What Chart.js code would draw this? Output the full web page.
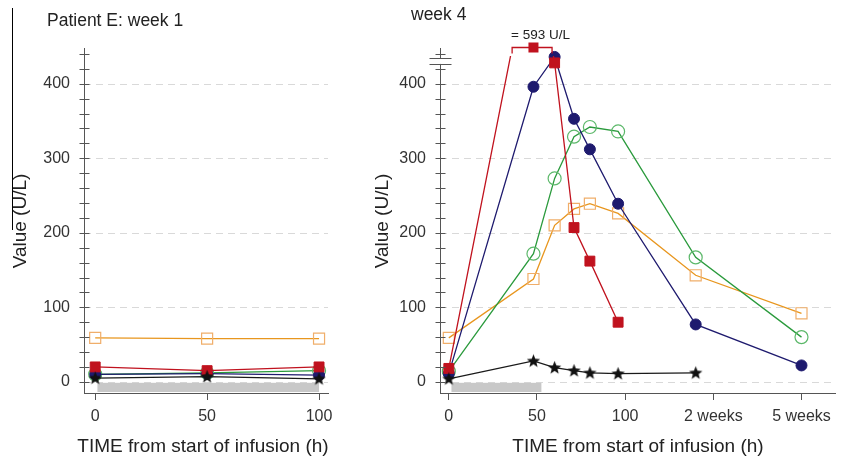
<!DOCTYPE html>
<html><head><meta charset="utf-8">
<script src="https://cdn.jsdelivr.net/npm/chart.js@4.4.1/dist/chart.umd.min.js"></script>
<style>
html,body{margin:0;padding:0;background:#fff;}
#wrap{position:relative;width:845px;height:462px;overflow:hidden;background:#fff;}
#c1{position:absolute;left:0;top:0;}
#c2{position:absolute;left:350px;top:0;}
#edge{position:absolute;left:12px;top:8px;width:1px;height:222px;background:#000;}
</style></head><body>
<div id="wrap"><canvas id="c1" width="340" height="462"></canvas><canvas id="c2" width="495" height="462"></canvas><div id="edge"></div></div>
<script>
// ---- tick values / labels ----
const yTickValues = [0,20,40,60,80,100,120,140,160,180,200,220,240,260,280,300,320,340,360,380,400,420,440];
const yLabelValues = [0,100,200,300,400];
const leftXTicks = [0,50,100];
const leftXLabels = ['0','50','100'];
const rightXTicks = [0,50,100,150,200];
const rightXLabels = ['0','50','100','2 weeks','5 weeks'];

// ---- week 1 (left) ----
const leftTimes  = [0,50,100];
const leftOrange = [59,58,58];
const leftRed    = [20,15,20];
const leftGreen  = [10,12,15];
const leftNavy   = [10,11,9];
const leftBlack  = [5,7,4];
const leftInfusion = [1,100];

// ---- week 4 (right) ----
const rightTimes  = [0,48,60,71,80,96,140,200];
const rightNavy   = [11,396,436,353,312,239,77,22];
const rightGreen  = [14,172,273,329,342,336,167,60];
const rightOrange = [59,138,210,232,239,226,143,92];
const rightRedTimes = [0,48,60,71,80,96];
const rightRed      = [18,593,428,207,162,80];
const rightBlackTimes = [0,48,60,71,80,96,140];
const rightBlack      = [4,28,19,15,12,11,12];
const rightInfusion = [1.5,52.5];

const FONT = "'Liberation Sans', Arial, Helvetica, sans-serif";
const C = {navy:'#1e1a6e', green:'#2a9a3c', greenPt:'#5cb86a', orange:'#e8961e', orangePt:'#f0ae6a', red:'#c0121e', black:'#1a1a1a', axis:'#555'};

function starImg(){
  const c = document.createElement('canvas'); c.width=15; c.height=15;
  const g = c.getContext('2d'); g.fillStyle='#111'; g.beginPath();
  for(let i=0;i<10;i++){ const r = i%2?3.0:7.0; const a = -Math.PI/2 + i*Math.PI/5; g.lineTo(7.5+r*Math.cos(a),7.8+r*Math.sin(a)); }
  g.closePath(); g.fill(); return c;
}
const STAR = starImg();
const pts = (xs,ys)=>xs.map((x,i)=>({x:x,y:ys[i]}));

function datasets(times, black, red, navy, green, orange, blackTimes, redTimes){
  return [
    {data:pts(blackTimes||times,black), borderColor:C.black, borderWidth:1.3, pointStyle:STAR, pointRadius:7},
    {data:pts(redTimes||times,red), borderColor:C.red, borderWidth:1.3, pointStyle:'rect', pointRadius:7, pointBackgroundColor:C.red, pointBorderColor:C.red, pointBorderWidth:1, clip:{left:6,top:-8,right:6,bottom:6}},
    {data:pts(times,navy), borderColor:C.navy, borderWidth:1.3, pointStyle:'circle', pointRadius:5.5, pointBackgroundColor:C.navy, pointBorderColor:C.navy, pointBorderWidth:1},
    {data:pts(times,green), borderColor:C.green, borderWidth:1.3, pointStyle:'circle', pointRadius:6.5, pointBackgroundColor:'rgba(0,0,0,0)', pointBorderColor:C.greenPt, pointBorderWidth:1.2},
    {data:pts(times,orange), borderColor:C.orange, borderWidth:1.3, pointStyle:'rect', pointRadius:7.8, pointBackgroundColor:'rgba(0,0,0,0)', pointBorderColor:C.orangePt, pointBorderWidth:1.2}
  ].map(d=>Object.assign({type:'line', fill:false, tension:0}, d));
}

function deco(cfg){
  return {
    id:'deco',
    beforeDatasetsDraw(chart){
      const ctx=chart.ctx, a=chart.chartArea, xs=chart.scales.x, ys=chart.scales.y;
      ctx.save();
      ctx.strokeStyle='#d9d9d9'; ctx.lineWidth=1; ctx.setLineDash([7,5]);
      yLabelValues.forEach(v=>{ const p=Math.round(ys.getPixelForValue(v))+0.5; ctx.beginPath(); ctx.moveTo(a.left,p); ctx.lineTo(a.right,p); ctx.stroke(); });
      ctx.setLineDash([]);
      ctx.fillStyle='#c8c8c8';
      const x0=xs.getPixelForValue(cfg.infusion[0]), x1=xs.getPixelForValue(cfg.infusion[1]);
      const y0=ys.getPixelForValue(0)+1;
      ctx.fillRect(x0,y0,x1-x0,a.bottom-1-y0);
      ctx.restore();
    },
    afterDraw(chart){
      const ctx=chart.ctx, a=chart.chartArea, xs=chart.scales.x, ys=chart.scales.y;
      ctx.save();
      ctx.strokeStyle=C.axis; ctx.lineWidth=1;
      const ax=Math.round(a.left)+0.5;
      ys.ticks.forEach(t=>{ const p=Math.round(ys.getPixelForValue(t.value))+0.5; ctx.beginPath(); ctx.moveTo(ax-5,p); ctx.lineTo(ax+5,p); ctx.stroke(); });
      if(cfg.breakAt!==undefined){
        const p=ys.getPixelForValue(cfg.breakAt);
        ctx.fillStyle='#fff'; ctx.fillRect(ax-2,p-2.5,4,5);
        [p-3,p+3].forEach(q=>{ const r=Math.round(q)+0.5; ctx.beginPath(); ctx.moveTo(ax-11,r); ctx.lineTo(ax+11,r); ctx.stroke(); });
      }
      if(cfg.bracket){
        const b=cfg.bracket, top=ys.max; let xl=null, xr=null, peakX=null, peakY=null;
        for(let i=0;i<b.ys.length;i++){
          if(b.ys[i]>top){
            peakX=b.xs[i]; peakY=b.ys[i];
            xl=b.xs[i-1]+(b.xs[i]-b.xs[i-1])*(top-b.ys[i-1])/(b.ys[i]-b.ys[i-1]);
            xr=b.xs[i]+(b.xs[i+1]-b.xs[i])*(b.ys[i]-top)/(b.ys[i]-b.ys[i+1]);
          }
        }
        if(peakX!==null){
          const pl=xs.getPixelForValue(xl), pr=xs.getPixelForValue(xr), pp=xs.getPixelForValue(peakX);
          const by=Math.round(a.top)-0.5;
          ctx.strokeStyle=C.red; ctx.lineWidth=1.3;
          ctx.beginPath(); ctx.moveTo(pl,by+6); ctx.lineTo(pl,by); ctx.lineTo(pr,by); ctx.lineTo(pr,by+6); ctx.stroke();
          ctx.fillStyle=C.red; ctx.fillRect(pp-5,by-5,10,10);
          ctx.fillStyle='#222'; ctx.font='13.5px '+FONT; ctx.textAlign='center'; ctx.textBaseline='middle';
          ctx.fillText('= '+peakY+' U/L', pp+7, 35);
        }
      }
      ctx.fillStyle='#222'; ctx.textBaseline='middle';
      ctx.font='17.5px '+FONT; ctx.textAlign='left';
      ctx.fillText(cfg.title, cfg.titleX, cfg.titleY);
      ctx.font='19px '+FONT; ctx.textAlign='center';
      ctx.fillText('TIME from start of infusion (h)', cfg.xTitleX, 447);
      ctx.save(); ctx.translate(cfg.yTitleX, 221); ctx.rotate(-Math.PI/2);
      ctx.fillText('Value (U/L)', 0, 0); ctx.restore();
      ctx.restore();
    }
  };
}

function makeChart(id, cfg){
  const canvas=document.getElementById(id);
  return new Chart(canvas,{
    data:{datasets:cfg.datasets},
    options:{
      responsive:false, animation:false, events:[],
      layout:{padding:{left:0,top:48,right:canvas.width-cfg.areaRight,bottom:0}},
      plugins:{legend:{display:false}, tooltip:{enabled:false}},
      scales:{
        x:{type:'linear', min:cfg.xMin, max:cfg.xMax,
          afterBuildTicks:s=>{ s.ticks=cfg.xTicks.map(v=>({value:v})); },
          afterFit:s=>{ s.height=69; },
          ticks:{autoSkip:false, maxRotation:0, padding:7, color:'#333', font:{family:FONT,size:16},
            callback:(v)=>{ const i=cfg.xTicks.indexOf(v); return i>=0?cfg.xLabels[i]:''; }},
          grid:{display:true, drawOnChartArea:false, drawTicks:true, tickLength:7, color:C.axis, lineWidth:1},
          border:{display:true, color:C.axis, width:1}
        },
        y:{type:'linear', min:-15, max:448,
          afterBuildTicks:s=>{ s.ticks=yTickValues.map(v=>({value:v})); },
          afterFit:s=>{ s.width=cfg.areaLeft; },
          ticks:{autoSkip:false, padding:14, color:'#333', font:{family:FONT,size:16},
            callback:(v)=> yLabelValues.includes(v)?String(v):'' },
          grid:{display:false, drawTicks:false},
          border:{display:true, color:C.axis, width:1}
        }
      }
    },
    plugins:[deco(cfg)]
  });
}

makeChart('c1',{
  datasets:datasets(leftTimes,leftBlack,leftRed,leftNavy,leftGreen,leftOrange),
  areaLeft:84, areaRight:328, xMin:-5, xMax:104, xTicks:leftXTicks, xLabels:leftXLabels,
  infusion:leftInfusion, title:'Patient E: week 1', titleX:47, titleY:21, xTitleX:203, yTitleX:21
});
makeChart('c2',{
  datasets:datasets(rightTimes,rightBlack,rightRed,rightNavy,rightGreen,rightOrange,rightBlackTimes,rightRedTimes),
  areaLeft:90, areaRight:485, xMin:-5, xMax:219, xTicks:rightXTicks, xLabels:rightXLabels,
  infusion:rightInfusion, title:'week 4', titleX:61, titleY:15, xTitleX:288, yTitleX:33,
  breakAt:430, bracket:{xs:rightRedTimes, ys:rightRed}
});
</script>
</body></html>
